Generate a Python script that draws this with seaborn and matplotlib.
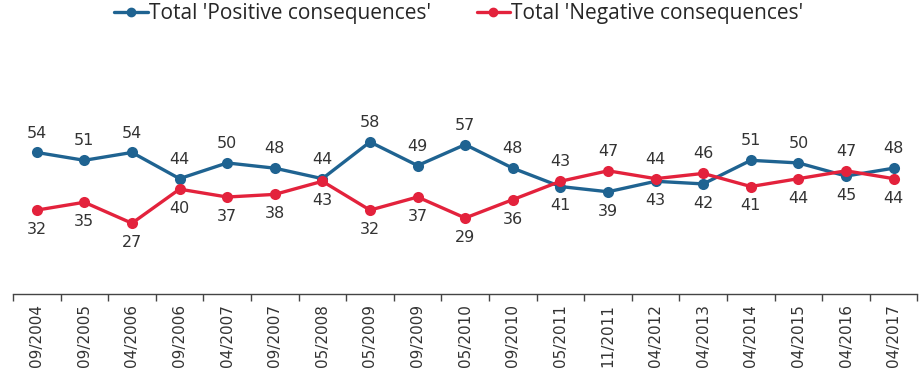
import numpy as np
import pandas as pd
import seaborn as sns
from matplotlib import pyplot as plt
from matplotlib.ticker import FixedLocator

dates = ['09/2004', '09/2005', '04/2006', '09/2006', '04/2007', '09/2007', '05/2008',
         '05/2009', '09/2009', '05/2010', '09/2010', '05/2011', '11/2011', '04/2012',
         '04/2013', '04/2014', '04/2015', '04/2016', '04/2017']
positive = [54, 51, 54, 44, 50, 48, 44, 58, 49, 57, 48, 41, 39, 43, 42, 51, 50, 45, 48]
negative = [32, 35, 27, 40, 37, 38, 43, 32, 37, 29, 36, 43, 47, 44, 46, 41, 44, 47, 44]

pos_name = "Total 'Positive consequences'"
neg_name = "Total 'Negative consequences'"
blue = '#1f6391'
red = '#e3223c'

df = pd.DataFrame({
    'pos': list(range(len(dates))) * 2,
    'value': positive + negative,
    'series': [pos_name] * len(dates) + [neg_name] * len(dates),
})

sns.set_style('white')
plt.rcParams['font.family'] = ['DejaVu Sans']

fig = plt.figure(figsize=(9.23, 3.75), dpi=100)
ax = fig.add_axes([0.014, 0.216, 0.98, 0.699])

sns.lineplot(data=df, x='pos', y='value', hue='series', palette=[blue, red],
             marker='o', markersize=8, markeredgewidth=0, linewidth=2.4,
             ax=ax, legend=False)

# data labels: the higher series above, the lower below
for i, (p, n) in enumerate(zip(positive, negative)):
    p_up = p >= n
    ax.annotate(str(p), (i, p), xytext=(0, 14 if p_up else -14), textcoords='offset points',
                ha='center', va='center', fontsize=11.5, color='#333333')
    ax.annotate(str(n), (i, n), xytext=(0, -14 if p_up else 14), textcoords='offset points',
                ha='center', va='center', fontsize=11.5, color='#333333')

ax.set_xlim(-0.5, len(dates) - 0.5)
ax.set_ylim(0, 100)
ax.set_yticks([])
ax.set_xlabel('')
ax.set_ylabel('')
ax.set_xticks(range(len(dates)))
ax.set_xticklabels(dates, rotation=90, fontsize=11, color='#333333')
ax.xaxis.set_minor_locator(FixedLocator(np.arange(-0.5, len(dates), 1)))
ax.tick_params(axis='x', which='major', length=0, pad=7)
ax.tick_params(axis='x', which='minor', length=5, width=1, color='#444444', direction='out', bottom=True)
for s in ['top', 'left', 'right']:
    ax.spines[s].set_visible(False)
ax.spines['bottom'].set_color('#444444')
ax.spines['bottom'].set_linewidth(1)

handles = [plt.Line2D([], [], color=blue, marker='o', markersize=6, linewidth=2.4),
           plt.Line2D([], [], color=red, marker='o', markersize=6, linewidth=2.4)]
fig.legend(handles, [pos_name, neg_name], loc='center left', bbox_to_anchor=(0.108, 0.963),
           ncol=2, frameon=False, handlelength=1.6, handletextpad=0.05,
           columnspacing=2.2, borderpad=0.2, prop={'family': 'Open Sans', 'size': 15})

fig.savefig('out.png', dpi=100)
